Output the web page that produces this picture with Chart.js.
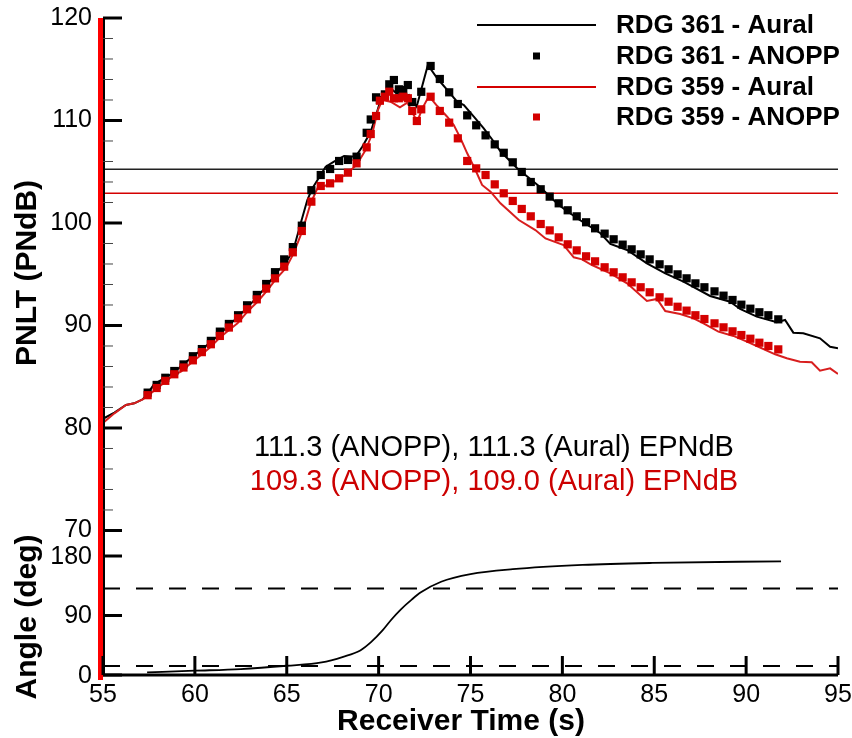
<!DOCTYPE html>
<html>
<head>
<meta charset="utf-8">
<script src="https://cdn.jsdelivr.net/npm/chart.js@4.4.1/dist/chart.umd.min.js"></script>
<style>
html, body { margin: 0; padding: 0; background: #fff; }
</style>
</head>
<body>
<canvas id="pnltChart" width="852" height="738"></canvas>
<script>
// tick labels
const timeTicks = [55, 60, 65, 70, 75, 80, 85, 90, 95];
const pnltTicks = [70, 80, 90, 100, 110, 120];
const angleTicks = [0, 90, 180];

// ANOPP predictions (same receiver times for both runs)
const anoppTime = [57.43, 57.92, 58.39, 58.88, 59.38, 59.89, 60.38, 60.87, 61.36, 61.85, 62.35, 62.84, 63.37, 63.88, 64.36, 64.86, 65.33,
    65.82, 66.34, 66.85, 67.36, 67.85, 68.33, 68.8,
    69.35, 69.57, 69.86, 70.07, 70.34, 70.58, 70.83, 71.1, 71.34, 71.59, 71.83, 72.08, 72.32,
    72.83, 73.33, 73.84, 74.31, 74.82, 75.31, 75.82, 76.32,
    76.81, 77.3, 77.79, 78.28, 78.82, 79.31, 79.8, 80.29, 80.78, 81.29, 81.78, 82.3, 82.79, 83.28, 83.77, 84.26, 84.75, 85.29, 85.78, 86.27, 86.76, 87.24, 87.73, 88.28, 88.77, 89.26, 89.74, 90.23, 90.72, 91.21, 91.75];
const rdg361Anopp = [83.45, 84.2, 84.9, 85.56, 86.2, 87.0, 87.7, 88.5, 89.4, 90.15, 91.0, 91.97, 92.98, 94.05, 95.2, 96.45, 97.65,
    99.74, 103.2, 104.68, 105.27, 106.05, 106.15, 106.47,
    108.8, 110.1, 112.26, 112.0, 112.55, 113.53, 113.95, 113.04, 112.98, 113.46, 111.8, null, 112.8,
    115.32, 114.05, 112.75, 111.61, 110.5, 109.53, 108.55, 107.67,
    106.85, 105.92, 104.98, 104.0, 103.29, 102.57, 101.92, 101.24, 100.65, 100.07, 99.48, 98.96, 98.41, 97.89, 97.43, 96.94, 96.45, 95.97, 95.48, 94.99, 94.6, 94.11, 93.73, 93.33, 92.91, 92.49, 92.03, 91.64, 91.29, 91.0, 90.6];
const rdg359Anopp = [83.2, 83.9, 84.6, 85.24, 85.9, 86.6, 87.4, 88.17, 88.98, 89.8, 90.7, 91.58, 92.55, 93.6, 94.6, 95.74, 97.14,
    99.22, 102.08, 103.61, 103.87, 104.36, 104.91, 105.82,
    107.38, 108.68, 110.44, 111.93, 112.32, 112.81, 112.17, 112.17, 112.32, 112.17, 110.93, 109.95, 111.09,
    112.32, 110.93, 109.79, 108.26, 106.05, 105.33, 104.68, 103.77,
    102.9, 102.15, 101.37, 100.65, 99.9, 99.28, 98.6, 97.92, 97.33, 96.75, 96.26, 95.68, 95.19, 94.7, 94.21, 93.73, 93.24, 92.75, 92.32, 91.83, 91.45, 91.0, 90.63, 90.21, 89.82, 89.43, 89.07, 88.71, 88.32, 88.0, 87.67];

// aural (measured) PNLT
const rdg361AuralTime = [55.0, 55.62, 56.25, 56.7, 57.16, 57.43, 57.79, 58.33, 58.79, 59.33, 59.88, 60.42, 60.87, 61.32, 61.86, 62.32, 62.86, 63.41, 63.95, 64.4, 64.95, 65.36,
    65.76, 66.12, 66.39, 67.12, 67.57, 68.12, 68.75, 69.11, 69.57, 69.89, 70.11, 70.38, 70.65, 70.98, 71.29, 71.65, 72.07, 72.46, 72.68, 73.19, 73.73, 74.27, 74.64, 75.18, 75.72,
    76.2, 76.63, 77.54, 78.8, 79.8, 80.8, 82.07, 82.61, 83.52, 84.6, 85.6, 86.59, 88.04, 89.13, 89.67, 90.58, 91.67, 92.12, 92.57, 93.11, 94.02, 94.57, 95.0];
const rdg361Aural = [80.9, 81.5, 82.24, 82.41, 82.8, 83.38, 84.29, 84.85, 85.33, 86.15, 86.96, 87.71, 88.42, 89.07, 90.05, 90.8, 91.77, 92.81, 93.95, 95.09, 96.13, 97.37,
    99.97, 102.24, 103.38, 105.49, 105.98, 106.54, 106.47, 107.44, 108.9, 110.7, 112.0, 112.65, 113.14, 112.65, 112.32, 112.49, 111.35, 113.95, 115.41, 114.12, 112.98, 111.83, 111.51, 110.37, 109.24,
    108.1, 107.0, 105.34, 103.48, 101.76, 100.46, 99.0, 97.95, 97.37, 96.06, 95.09, 94.28, 92.88, 92.32, 91.61, 90.86, 90.31, 90.54, 89.3, 89.24, 88.75, 87.93, 87.77];
const rdg359AuralTime = [55.0, 55.62, 56.25, 56.7, 57.16, 57.43, 57.88, 58.33, 58.79, 59.24, 59.78, 60.33, 60.87, 61.32, 61.86, 62.32, 62.86, 63.41, 63.95, 64.4, 64.95, 65.36,
    65.85, 66.3, 66.67, 67.21, 67.75, 68.3, 68.8, 69.29, 69.66, 69.96, 70.2, 70.65, 71.16, 71.56, 72.1, 72.38, 72.74, 73.19, 73.73, 74.09, 74.46, 74.82, 75.27, 75.63, 76.09,
    76.63, 76.99, 77.63, 78.53, 79.08, 80.07, 80.62, 81.07, 81.61, 82.61, 83.52, 84.6, 85.15, 85.6, 86.41, 87.14, 87.68, 88.49, 89.31, 90.04, 90.58, 91.58, 92.21, 92.93, 93.57, 94.02, 94.57, 95.0];
const rdg359Aural = [80.5, 81.43, 82.24, 82.41, 82.8, 83.12, 83.77, 84.42, 85.1, 85.49, 86.31, 87.12, 87.93, 88.75, 89.56, 90.21, 91.35, 92.32, 93.46, 94.5, 95.58, 96.98,
    99.22, 101.92, 103.38, 103.71, 104.2, 104.85, 105.66, 107.12, 108.75, 111.02, 112.0, 111.83, 111.29, 111.74, 109.88, 111.19, 112.39, 111.41, 110.37, 109.56, 108.26, 106.8, 105.17, 103.71, 103.06,
    101.92, 101.33, 100.29, 99.31, 98.49, 97.85, 96.65, 96.45, 95.9, 95.09, 94.11, 92.39, 92.59, 91.41, 91.12, 90.7, 90.21, 89.4, 88.98, 88.42, 88.0, 87.19, 86.8, 86.47, 86.41, 85.59, 85.82, 85.27];

// PNLTM - 10 levels (361, 359)
const tenDownLevels = [105.25, 102.9];

// emission angle
const angleTime = [57.4, 60, 62.5, 65, 66.9, 68.07, 69.0, 69.6, 70.2, 70.7, 71.2, 71.8, 72.3, 73.4, 75, 77.3, 81.1, 84.9, 91.9];
const angleDeg = [4, 6.5, 9, 14, 19, 27.5, 37, 50, 67, 84, 99, 114, 125, 141, 152.5, 160, 166.5, 169.5, 172];
const angleLimits = [131, 13.5];

const legendNames = ['RDG 361 - Aural', 'RDG 361 - ANOPP', 'RDG 359 - Aural', 'RDG 359 - ANOPP'];
const epndbText = ['111.3 (ANOPP), 111.3 (Aural) EPNdB', '109.3 (ANOPP), 109.0 (Aural) EPNdB'];

const FONT = "'Liberation Sans', Arial, sans-serif";
const RED = '#d40000';

function pts(xs, ys) {
    return xs.map((x, i) => ({x: x, y: ys[i]}));
}
function span(v) {
    return [{x: timeTicks[0], y: v}, {x: timeTicks[timeTicks.length - 1], y: v}];
}

function line(ctx, x1, y1, x2, y2) {
    ctx.beginPath();
    ctx.moveTo(x1, y1);
    ctx.lineTo(x2, y2);
    ctx.stroke();
}

// keep the plot box fixed, no extra room for overhanging labels
function noPad(s) {
    s.paddingTop = 0; s.paddingBottom = 0; s.paddingLeft = 0; s.paddingRight = 0;
}

const decor = {
    id: 'decor',
    afterDraw(chart) {
        const ctx = chart.ctx;
        const a = chart.chartArea;
        const x = chart.scales.x, y = chart.scales.y, ya = chart.scales.yAngle;
        ctx.save();

        // red bar on the left edge
        const top = y.getPixelForValue(120);
        ctx.fillStyle = '#ff0000';
        ctx.fillRect(a.left - 5, top, 5, a.bottom + 5 - top);

        // axis lines
        ctx.strokeStyle = '#000';
        ctx.lineWidth = 2;
        line(ctx, a.left + 1, top, a.left + 1, a.bottom);
        ctx.lineWidth = 3;
        line(ctx, a.left, a.bottom, a.right, a.bottom);

        // inward ticks
        timeTicks.forEach(v => {
            const px = x.getPixelForValue(v);
            line(ctx, px, a.bottom, px, a.bottom - 19);
        });
        for (let v = 70; v <= 120; v += 2) {
            const py = y.getPixelForValue(v);
            if (v % 10 === 0) {
                ctx.lineWidth = 3; ctx.strokeStyle = '#000';
                line(ctx, a.left, py, a.left + 19, py);
            } else {
                ctx.lineWidth = 1; ctx.strokeStyle = '#444';
                line(ctx, a.left, py, a.left + 10, py);
            }
        }
        ctx.lineWidth = 3; ctx.strokeStyle = '#000';
        ctx.fillStyle = '#000';
        ctx.font = '25px ' + FONT;
        ctx.textAlign = 'right';
        ctx.textBaseline = 'middle';
        angleTicks.forEach(v => {
            const py = ya.getPixelForValue(v);
            line(ctx, a.left, py, a.left + 19, py);
            ctx.fillText(String(v), a.left - 11, py + 1);
        });

        // axis titles
        ctx.font = 'bold 30px ' + FONT;
        ctx.textAlign = 'center';
        ctx.textBaseline = 'alphabetic';
        ctx.fillText('Receiver Time (s)', 461, 730);
        ctx.save();
        ctx.translate(36, 273);
        ctx.rotate(-Math.PI / 2);
        ctx.fillText('PNLT (PNdB)', 0, 0);
        ctx.restore();
        ctx.save();
        ctx.translate(36, 617);
        ctx.rotate(-Math.PI / 2);
        ctx.fillText('Angle (deg)', 0, 0);
        ctx.restore();

        // EPNdB notes
        ctx.font = '29px ' + FONT;
        ctx.textBaseline = 'middle';
        ctx.fillStyle = '#000';
        ctx.fillText(epndbText[0], 494, 448);
        ctx.fillStyle = '#cc0000';
        ctx.fillText(epndbText[1], 494, 482);

        // legend
        const rows = [25, 56, 87, 117];
        ctx.font = 'bold 26px ' + FONT;
        ctx.textAlign = 'left';
        legendNames.forEach((name, i) => {
            const col = i < 2 ? '#000' : RED;
            if (i % 2 === 0) {
                ctx.strokeStyle = col; ctx.lineWidth = 2;
                line(ctx, 477, rows[i], 596, rows[i]);
            } else {
                ctx.fillStyle = col;
                ctx.fillRect(533, rows[i] - 3.5, 7, 7);
            }
            ctx.fillStyle = '#000';
            ctx.fillText(name, 616, rows[i] + 1);
        });
        ctx.restore();
    }
};

const ctx = document.getElementById('pnltChart').getContext('2d');
const myChart = new Chart(ctx, {
    type: 'scatter',
    data: {
        datasets: [{
            label: legendNames[3],
            data: pts(anoppTime, rdg359Anopp),
            pointStyle: 'rect',
            pointRadius: 5.8,
            backgroundColor: RED,
            borderWidth: 0,
            order: 1
        }, {
            label: legendNames[1],
            data: pts(anoppTime, rdg361Anopp),
            pointStyle: 'rect',
            pointRadius: 5.8,
            backgroundColor: '#000',
            borderWidth: 0,
            order: 2
        }, {
            label: legendNames[2],
            data: pts(rdg359AuralTime, rdg359Aural),
            showLine: true,
            pointRadius: 0,
            borderColor: '#d81e1e',
            borderWidth: 2,
            order: 3
        }, {
            label: legendNames[0],
            data: pts(rdg361AuralTime, rdg361Aural),
            showLine: true,
            pointRadius: 0,
            borderColor: '#000',
            borderWidth: 2,
            order: 4
        }, {
            label: '361 PNLTM-10',
            data: span(tenDownLevels[0]),
            showLine: true,
            pointRadius: 0,
            borderColor: '#222',
            borderWidth: 1.5,
            order: 5
        }, {
            label: '359 PNLTM-10',
            data: span(tenDownLevels[1]),
            showLine: true,
            pointRadius: 0,
            borderColor: RED,
            borderWidth: 1.5,
            order: 5
        }, {
            label: 'Angle',
            data: pts(angleTime, angleDeg),
            yAxisID: 'yAngle',
            showLine: true,
            cubicInterpolationMode: 'monotone',
            pointRadius: 0,
            borderColor: '#000',
            borderWidth: 1.8,
            order: 6
        }, {
            label: 'Angle upper',
            data: span(angleLimits[0]),
            yAxisID: 'yAngle',
            showLine: true,
            pointRadius: 0,
            borderColor: '#000',
            borderWidth: 2,
            borderDash: [17, 16],
            order: 7
        }, {
            label: 'Angle lower',
            data: span(angleLimits[1]),
            yAxisID: 'yAngle',
            showLine: true,
            pointRadius: 0,
            borderColor: '#000',
            borderWidth: 2,
            borderDash: [17, 16],
            order: 7
        }]
    },
    options: {
        responsive: false,
        animation: false,
        layout: { padding: { left: 0, right: 14, top: 18, bottom: 0 } },
        plugins: {
            legend: { display: false },
            tooltip: { enabled: false }
        },
        scales: {
            x: {
                type: 'linear',
                min: 55,
                max: 95,
                afterBuildTicks: s => { s.ticks = timeTicks.map(v => ({value: v})); },
                afterFit: s => { s.height = 63; noPad(s); },
                grid: { display: false, drawTicks: false },
                border: { display: false },
                ticks: { color: '#000', font: { family: FONT, size: 25 }, padding: 5, maxRotation: 0, autoSkip: false }
            },
            y: {
                type: 'linear',
                min: 55.9,
                max: 120,
                afterBuildTicks: s => { s.ticks = pnltTicks.map(v => ({value: v})); },
                afterFit: s => { s.width = 103; noPad(s); },
                grid: { display: false, drawTicks: false },
                border: { display: false },
                ticks: { color: '#000', font: { family: FONT, size: 25 }, padding: 11, autoSkip: false }
            },
            yAngle: {
                type: 'linear',
                display: false,
                min: 0,
                max: 993.8
            }
        }
    },
    plugins: [decor]
});
</script>
</body>
</html>
